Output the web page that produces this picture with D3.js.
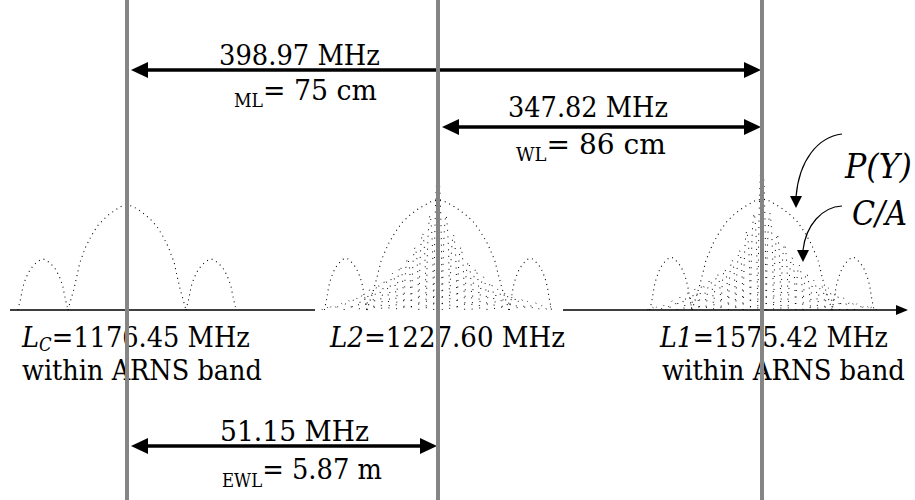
<!DOCTYPE html>
<html><head><meta charset="utf-8">
<script src="https://cdn.jsdelivr.net/npm/d3@7"></script>
<style>html,body{margin:0;padding:0;background:#fff;}svg{display:block;}</style>
</head><body>
<svg id="c" width="915" height="500"></svg>
<script>
// ---------- data ----------
const signalNames = ["LC", "L2", "L1"];
const signalFreqs = [1176.45, 1227.60, 1575.42];          // MHz
const signalLabels = ["=1176.45 MHz", "=1227.60 MHz", "=1575.42 MHz"];
// P(Y)-type lobes: edges in chip units, peaks in dB
const lcEdges = [-1.85, -1, 1, 1.85];
const lcPeaks = [-13.4, -1.1, -13.4];
const l2Edges = [-1.6, -1, 1, 1.6];
const l2Peaks = [-13.2, 0, -13.2];
const l1Edges = [-1.6, -1, 1, 1.6];
const l1Peaks = [-13.0, 0.2, -13.0];
// C/A-type narrow lobes: main peak and side-lobe peaks (dB), inner to outer
const l2CaMain = 7.5;
const l2CaLeft  = [-3.4, -7.5, -10.7, -13.2, -15.0, -16.6, -18.0, -19.1, -20.2, -21.4, -22.0, -22.7, -23.4, -23.9, -24.3];
const l2CaRight = [-3.4, -7.9, -10.7, -14.0, -15.6, -17.4, -18.7, -20.2, -21.0, -21.8, -22.3, -23.0, -23.4, -23.9, -24.3];
const l1CaMain = 10.2;
const l1CaLeft  = [-3.0, -7.0, -11.4, -13.6, -15.7, -16.8, -18.0, -19.1, -20.2, -21.1, -22.0, -22.7, -23.6, -24.1, -24.3];
const l1CaRight = [-3.0, -7.7, -10.0, -13.0, -14.8, -16.6, -18.2, -19.3, -20.0, -21.1, -22.3, -23.0, -23.4, -23.9, -24.3];
// normalized half-lobe shape: [fraction to peak, relative level]
const lobeProfile = [[0,0],[0.1,0.2],[0.15,0.32],[0.2,0.45],[0.3,0.6],[0.4,0.71],[0.5,0.8],[0.6,0.86],[0.7,0.91],[0.8,0.95],[0.9,0.985],[1,1]];
// separations
const spanFrom = [0, 1, 0];
const spanTo   = [2, 2, 1];
const spanFreqText = ["398.97 MHz", "347.82 MHz", "51.15 MHz"];
const spanSub = ["ML", "WL", "EWL"];
const spanWave = ["= 75 cm", "= 86 cm", "= 5.87 m"];

// ---------- drawing ----------
const svg = d3.select("#c");
const FONT = "DejaVu Serif";
const FLOOR = -25;
const x = d3.scaleLinear().domain(signalFreqs).range([127, 438, 762]);
const y = d3.scaleLinear().domain([FLOOR, 0]).range([310, 200]);
const chipPx = [59, 71, 70];
const caMainHalf = 0.06, caWidth = 0.105;

function lobePts(lo, hi, peak) {
  const half = (hi - lo) / 2, pts = [];
  lobeProfile.forEach(([u, r]) => pts.push([lo + u * half, FLOOR + r * (peak - FLOOR)]));
  lobeProfile.slice(0, -1).reverse().forEach(([u, r]) => pts.push([hi - u * half, FLOOR + r * (peak - FLOOR)]));
  return pts;
}
function spectrumPath(i, pts) {
  const cs = d3.scaleLinear().domain([-1, 1]).range([x(signalFreqs[i]) - chipPx[i], x(signalFreqs[i]) + chipPx[i]]);
  return d3.line().x(d => cs(d[0])).y(d => y(d[1]))(pts);
}
const dotted = g => g.attr("fill", "none").attr("stroke", "#000").attr("stroke-width", 1.1).attr("stroke-dasharray", "1 4");

// text fitted to a given left edge and width (horizontal scaling only)
function fitText(left, base, width, size, build) {
  const g = svg.append("g");
  const t = g.append("text").attr("x", 0).attr("y", base).attr("font-family", FONT).attr("font-size", size).attr("fill", "#000");
  build(t);
  const w = t.node().getComputedTextLength();
  g.attr("transform", `translate(${left},0) scale(${width / w},1)`);
  return t;
}

// axis
const l2c = x(signalFreqs[1]);
svg.append("path").attr("d", `M10,310H${l2c - 123}M${l2c + 125},310H898`).attr("stroke", "#000").attr("stroke-width", 1.6);
svg.append("path").attr("d", "M896,305L908,310L896,315Z").attr("fill", "#000");

// P(Y) lobes
[[lcEdges, lcPeaks], [l2Edges, l2Peaks], [l1Edges, l1Peaks]].forEach(([e, p], i) => {
  p.forEach((pk, k) => {
    svg.append("path").attr("d", spectrumPath(i, lobePts(e[k], e[k + 1], pk))).call(dotted);
  });
});
// C/A lobes
[[1, l2CaMain, l2CaLeft, l2CaRight], [2, l1CaMain, l1CaLeft, l1CaRight]].forEach(([i, m, L, R]) => {
  let pts = [];
  for (let k = L.length - 1; k >= 0; k--) {
    const hi = -(caMainHalf + k * caWidth), lo = hi - caWidth;
    pts = pts.concat(lobePts(lo, hi, L[k]).slice(pts.length ? 1 : 0));
  }
  pts = pts.concat(lobePts(-caMainHalf, caMainHalf, m).slice(1));
  R.forEach((pk, k) => {
    const lo = caMainHalf + k * caWidth;
    pts = pts.concat(lobePts(lo, lo + caWidth, pk).slice(1));
  });
  svg.append("path").attr("d", spectrumPath(i, pts)).call(dotted).attr("stroke-width", 1).attr("stroke-dasharray", "1 5.5");
});

// signal labels
const labX = [22, 330, 660], labW = [228, 235, 228];
const arnsX = [22, 662], arnsW = [240, 243];
signalNames.forEach((n, i) => {
  fitText(labX[i], 347, labW[i], 28, t => {
    if (n === "LC") {
      t.append("tspan").attr("font-style", "italic").text("L");
      t.append("tspan").attr("font-style", "italic").attr("font-size", 18).attr("dy", 4).text("C");
      t.append("tspan").attr("dy", -4).text(signalLabels[i]);
    } else {
      t.append("tspan").attr("font-style", "italic").text(n);
      t.append("tspan").text(signalLabels[i]);
    }
  });
});
arnsX.forEach((ax, k) => fitText(ax, 380, arnsW[k], 28, t => t.text("within ARNS band")));

// separation arrows
const arrowY = [70, 127, 446], textY = [65, 117, 441], subY = [107, 161, 487], waveY = [100, 154, 479];
const textX = [219, 508, 220], textW = [161, 160, 149];
const waveX = [234, 516, 222], waveW = [143, 150, 160];
spanFrom.forEach((a, j) => {
  const x1 = x(signalFreqs[a]) + 4, x2 = x(signalFreqs[spanTo[j]]) - 1, yy = arrowY[j];
  svg.append("line").attr("x1", x1 + 10).attr("x2", x2 - 10).attr("y1", yy).attr("y2", yy).attr("stroke", "#000").attr("stroke-width", 3.6);
  svg.append("path").attr("d", `M${x1},${yy}L${x1 + 17},${yy - 8}L${x1 + 17},${yy + 8}Z`).attr("fill", "#000");
  svg.append("path").attr("d", `M${x2},${yy}L${x2 - 17},${yy - 8}L${x2 - 17},${yy + 8}Z`).attr("fill", "#000");
  fitText(textX[j], textY[j], textW[j], 28, t => t.text(spanFreqText[j]));
  fitText(waveX[j], waveY[j], waveW[j], 28, t => {
    t.append("tspan").attr("font-size", 18).attr("dy", subY[j] - waveY[j]).text(spanSub[j]);
    t.append("tspan").attr("dy", waveY[j] - subY[j]).text(spanWave[j]);
  });
});

// P(Y) and C/A annotations
fitText(845, 178, 67, 33, t => t.attr("font-style", "italic").text("P(Y)"));
fitText(852, 225, 55, 33, t => t.attr("font-style", "italic").text("C/A"));
svg.append("path").attr("d", "M842,134C818,137 799,160 796,197").attr("fill", "none").attr("stroke", "#000").attr("stroke-width", 1.2);
svg.append("path").attr("d", "M790,196L802,196L796,208Z").attr("fill", "#000");
svg.append("path").attr("d", "M842,206C822,207 806,225 803,250").attr("fill", "none").attr("stroke", "#000").attr("stroke-width", 1.2);
svg.append("path").attr("d", "M797,250L809,250L803,262Z").attr("fill", "#000");

// grey carrier lines on top
signalFreqs.forEach(f => {
  svg.append("line").attr("x1", x(f)).attr("x2", x(f)).attr("y1", 0).attr("y2", 500).attr("stroke", "#858585").attr("stroke-width", 4);
});
</script>
</body></html>
